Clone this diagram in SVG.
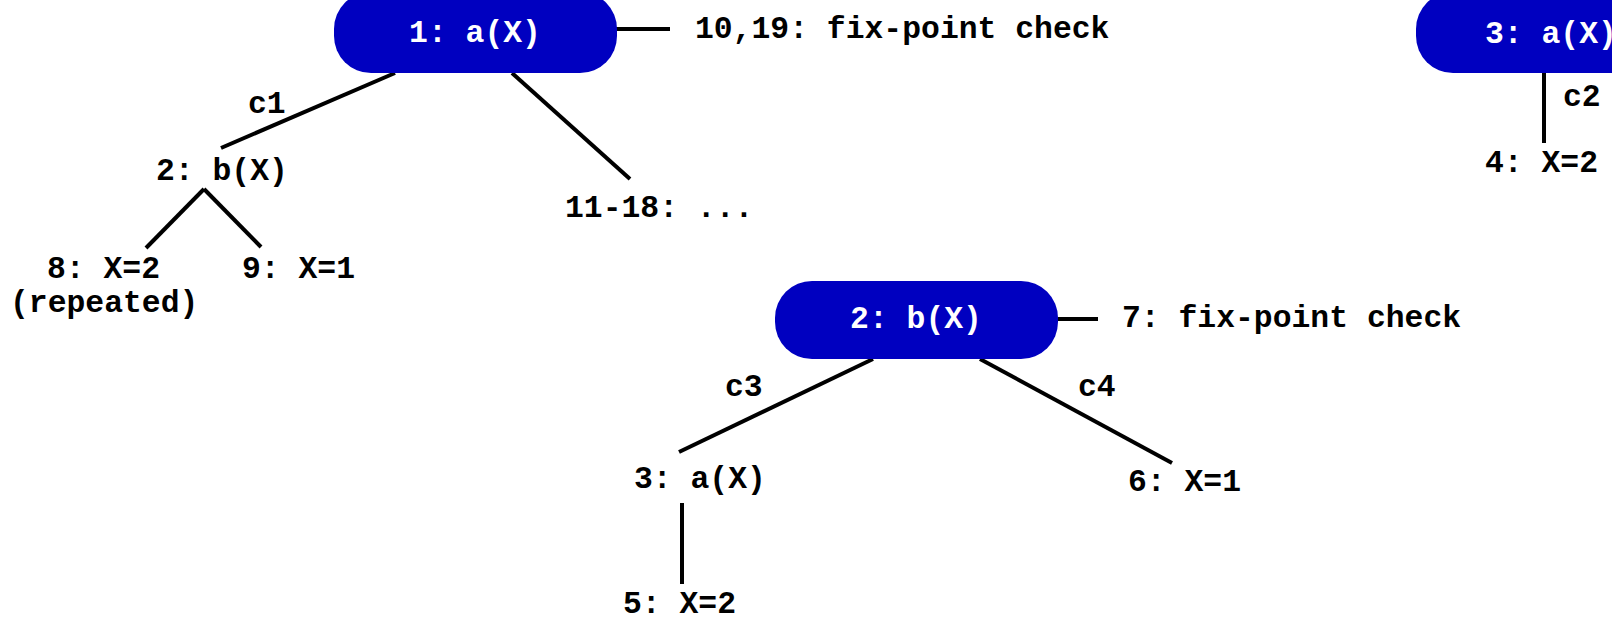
<svg xmlns="http://www.w3.org/2000/svg" width="1612" height="618" viewBox="0 0 1612 618">
  <style>
    text { font-family: "Liberation Mono", "Courier New", monospace; font-weight: bold; font-size: 31.4px; fill: #000; }
    .box { fill: #0000c0; }
    .boxlabel { fill: #fff; text-anchor: middle; }
    .edge { stroke: #000; stroke-width: 4; fill: none; }
  </style>

  <!-- connectors -->
  <g id="connectors">
    <line class="edge" x1="395" y1="73" x2="221" y2="148"/>
    <line class="edge" x1="512" y1="73" x2="630" y2="179"/>
    <line class="edge" x1="616" y1="29" x2="670" y2="29"/>
    <line class="edge" x1="204" y1="189" x2="146" y2="248"/>
    <line class="edge" x1="204" y1="189" x2="261" y2="247"/>
    <line class="edge" x1="1544" y1="73" x2="1544" y2="143"/>
    <line class="edge" x1="873" y1="359" x2="679" y2="452"/>
    <line class="edge" x1="980" y1="359" x2="1172" y2="463"/>
    <line class="edge" x1="1058" y1="319" x2="1098" y2="319"/>
    <line class="edge" x1="682" y1="503" x2="682" y2="584"/>
    <text x="248" y="113">c1</text>
    <text x="1563" y="106">c2</text>
    <text x="725" y="396">c3</text>
    <text x="1078" y="396">c4</text>
  </g>

  <!-- left tree -->
  <g id="n1">
    <rect class="box" x="334" y="-8" width="283" height="81" rx="37" ry="37"/>
    <text class="boxlabel" x="475" y="42">1: a(X)</text>
  </g>
  <g id="n1-check">
    <text x="695" y="38">10,19: fix-point check</text>
  </g>
  <g id="n2">
    <text x="156" y="180">2: b(X)</text>
  </g>
  <g id="n8">
    <text x="47" y="278">8: X=2</text>
    <text x="10" y="312">(repeated)</text>
  </g>
  <g id="n9">
    <text x="242" y="278">9: X=1</text>
  </g>
  <g id="n11-18">
    <text x="565" y="217">11-18: ...</text>
  </g>

  <!-- right tree -->
  <g id="n3top">
    <rect class="box" x="1416" y="-8" width="283" height="81" rx="37" ry="37"/>
    <text x="1485" y="43" style="fill:#fff">3: a(X)</text>
  </g>
  <g id="n4">
    <text x="1485" y="172">4: X=2</text>
  </g>

  <!-- middle tree -->
  <g id="n2mid">
    <rect class="box" x="775" y="281" width="283" height="78" rx="37" ry="37"/>
    <text class="boxlabel" x="916" y="328">2: b(X)</text>
  </g>
  <g id="n2-check">
    <text x="1122" y="327">7: fix-point check</text>
  </g>
  <g id="n3mid">
    <text x="634" y="488">3: a(X)</text>
  </g>
  <g id="n5">
    <text x="623" y="613">5: X=2</text>
  </g>
  <g id="n6">
    <text x="1128" y="491">6: X=1</text>
  </g>
</svg>
